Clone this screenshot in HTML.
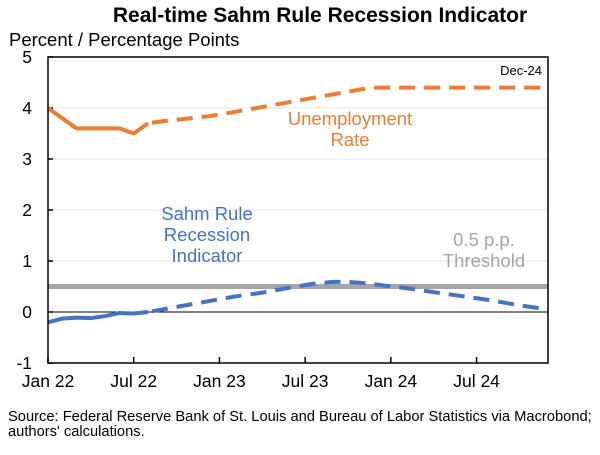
<!DOCTYPE html>
<html><head><meta charset="utf-8"><style>
body{margin:0;background:#fff;font-family:"Liberation Sans",sans-serif}
</style></head><body>
<svg id="c" width="600" height="450" xmlns="http://www.w3.org/2000/svg" font-family="Liberation Sans, sans-serif">
<text x="320" y="22" text-anchor="middle" font-size="21" font-weight="bold">Real-time Sahm Rule Recession Indicator</text>
<text x="9" y="46" font-size="18.5">Percent / Percentage Points</text>
<g id="grid"></g>
<g id="marks"></g>
<rect x="48" y="57" width="500" height="306" fill="none" stroke="#000" stroke-width="1.5"/>
<text x="542" y="75" text-anchor="end" font-size="13">Dec-24</text>
<text x="350" y="125" text-anchor="middle" font-size="18.5" fill="#ED7D31"><tspan x="350">Unemployment</tspan><tspan x="350" dy="21">Rate</tspan></text>
<text x="207" y="220" text-anchor="middle" font-size="18.5" fill="#4472C4"><tspan x="207">Sahm Rule</tspan><tspan x="207" dy="21">Recession</tspan><tspan x="207" dy="21">Indicator</tspan></text>
<text x="484" y="246" text-anchor="middle" font-size="18.5" fill="#A5A5A5"><tspan x="484">0.5 p.p.</tspan><tspan x="484" dy="21">Threshold</tspan></text>
<text x="8" y="421" font-size="14.7"><tspan x="8">Source: Federal Reserve Bank of St. Louis and Bureau of Labor Statistics via Macrobond;</tspan><tspan x="8" dy="15">authors' calculations.</tspan></text>
</svg>
<script>
const yTicks=[-1,0,1,2,3,4,5];
const xTickLabels=["Jan 22","Jul 22","Jan 23","Jul 23","Jan 24","Jul 24"];
const xTickMonths=[0,6,12,18,24,30];
const unrate=[4.0,3.8,3.6,3.6,3.6,3.6,3.5,3.7,3.74,3.77,3.8,3.83,3.87,3.92,3.97,4.02,4.07,4.12,4.17,4.22,4.27,4.32,4.37,4.4,4.4,4.4,4.4,4.4,4.4,4.4,4.4,4.4,4.4,4.4,4.4,4.4];
const sahm=[-0.2,-0.13,-0.11,-0.12,-0.08,-0.02,-0.03,0.0,0.05,0.1,0.15,0.2,0.25,0.3,0.34,0.38,0.43,0.48,0.53,0.57,0.59,0.59,0.57,0.54,0.5,0.47,0.43,0.39,0.35,0.31,0.27,0.23,0.18,0.13,0.09,0.05];
const solidEnd=7;
const threshold=0.5;
const NS="http://www.w3.org/2000/svg";
const x=m=>48+m*500/35;
const y=v=>312-v*51;
function mk(tag,attrs,parent){const e=document.createElementNS(NS,tag);for(const k in attrs)e.setAttribute(k,attrs[k]);parent.appendChild(e);return e;}
const grid=document.getElementById('grid'),marks=document.getElementById('marks'),svg=document.getElementById('c');
yTicks.forEach(t=>{
 if(t!==0&&t!==5&&t!==-1){const l=mk('line',{x1:48,x2:548,y1:y(t),y2:y(t),stroke:'#e6e6e6','stroke-width':1},grid);
 
 }
 const tk=mk('line',{x1:48,x2:53,y1:y(t),y2:y(t),stroke:'#000','stroke-width':1.5},grid);
 
 
 const tx=mk('text',{x:32,y:y(t)+6,'text-anchor':'end','font-size':17.5},svg);tx.textContent=t;
 
 
});
const zl=mk('line',{x1:48,x2:548,y1:y(0),y2:y(0),stroke:'#000','stroke-width':1},grid);


xTickMonths.forEach((m,i)=>{
 const tk=mk('line',{x1:x(m),x2:x(m),y1:363,y2:357,stroke:'#000','stroke-width':1.5},grid);
 
 
 const tx=mk('text',{x:x(m),y:387,'text-anchor':'middle','font-size':17.5},svg);tx.textContent=xTickLabels[i];
 
 
});
const th=mk('line',{x1:48,x2:548,y1:y(threshold),y2:y(threshold),stroke:'#A5A5A5','stroke-width':5},marks);


function path(arr,a,b){let d='';for(let i=a;i<=b;i++)d+=(i===a?'M':'L')+x(i)+','+y(arr[i]);return d;}
[[unrate,'#ED7D31','unemployment'],[sahm,'#4472C4','sahm']].forEach(([arr,c,n])=>{
 const s=mk('path',{d:path(arr,0,solidEnd),fill:'none',stroke:c,'stroke-width':4,'stroke-linejoin':'round'},marks);
 
 
 const p=mk('path',{d:path(arr,solidEnd,arr.length-1),fill:'none',stroke:c,'stroke-width':4,'stroke-dasharray':'16,9','stroke-dashoffset':-4},marks);
 
 
});
</script>
</body></html>
